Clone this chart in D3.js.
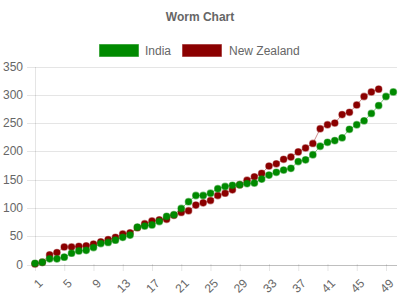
<!DOCTYPE html>
<html><head><meta charset="utf-8">
<script src="https://cdn.jsdelivr.net/npm/d3@7"></script>
<style>body{margin:0;background:#fff}svg{display:block}</style>
</head><body>
<script>
const overs = d3.range(1, 51);
const india = [2,4,10,10,13,20,24,25,30,37,39,43,48,52,66,68,70,76,85,88,99,111,122,122,126,134,138,140,141,143,144,151,158,163,167,170,182,185,194,209,216,219,224,239,247,254,267,281,297,305];
const newZealand = [1,4,17,21,31,31,32,33,36,40,44,48,54,56,65,72,77,79,80,87,92,95,105,109,113,122,126,132,141,149,155,161,174,178,186,190,199,206,214,240,247,250,265,269,282,297,305,310];
const yTicks = [0,50,100,150,200,250,300,350];
const series = [
  {name:"India", values:india, fill:"#008a00", stroke:"rgba(0,138,0,0.5)"},
  {name:"New Zealand", values:newZealand, fill:"#8b0000", stroke:"rgba(139,0,0,0.45)"}
];
const W=400,H=300;
const svg=d3.select("body").append("svg").attr("width",W).attr("height",H)
  .style("font-family","'Liberation Sans',Arial,sans-serif");
const x=d3.scaleLinear().domain([1,50]).range([35,393.3]);
const y=d3.scaleLinear().domain([0,350]).range([264.5,66.5]);

svg.append("text").attr("x",200).attr("y",21).attr("text-anchor","middle")
  .attr("font-size",12).attr("font-weight","bold").attr("fill","#666").text("Worm Chart");

// legend
const leg=[{x:99,tx:145},{x:182,tx:229}];
series.forEach((s,i)=>{
  svg.append("rect").attr("x",leg[i].x+0.5).attr("y",44.5).attr("width",39).attr("height",12)
    .attr("fill",s.fill).attr("stroke",s.stroke).attr("stroke-width",1);
  svg.append("text").attr("x",leg[i].tx).attr("y",54.5).attr("font-size",12).attr("fill","#666").text(s.name);
});

// y grid/axis
const yAxis=svg.append("g").attr("transform","translate(35,0)")
  .call(d3.axisLeft(y).tickValues(yTicks).tickSize(8).tickPadding(4).tickSizeOuter(0));
yAxis.select(".domain").attr("stroke","rgba(0,0,0,0.1)");
yAxis.selectAll(".tick line").attr("stroke","rgba(0,0,0,0.1)");
yAxis.selectAll(".tick text").attr("fill","#666").attr("font-size",12).attr("font-family","'Liberation Sans',Arial,sans-serif");
svg.append("g").selectAll("line").data(yTicks.filter(d=>d>0)).join("line")
  .attr("x1",35).attr("x2",397).attr("y1",d=>Math.round(y(d))+0.5).attr("y2",d=>Math.round(y(d))+0.5)
  .attr("stroke","rgba(0,0,0,0.1)");
yAxis.selectAll(".tick").attr("transform",d=>`translate(0,${Math.round(y(d))+0.5})`);

// x axis
const xTicks=overs.filter(d=>(d-1)%4===0);
const xAxis=svg.append("g").attr("transform","translate(0,265)")
  .call(d3.axisBottom(x).tickValues(xTicks).tickFormat(d3.format("d")).tickSize(6).tickSizeOuter(0));
xAxis.select(".domain").attr("stroke","rgba(0,0,0,0.25)").attr("d","M35,0.5H397");
xAxis.selectAll(".tick line").attr("stroke","rgba(0,0,0,0.1)").attr("y1",-1);
xAxis.selectAll(".tick text").attr("fill","#666").attr("font-size",12)
  .attr("font-family","'Liberation Sans',Arial,sans-serif")
  .attr("text-anchor","end").attr("dy","0.35em").attr("y",0)
  .attr("transform","translate(5,16) rotate(-45)");

// series: draw NZ first, India on top
const line=d3.line().x((d,i)=>x(i+1)).y(d=>y(d));
[series[1],series[0]].forEach(s=>{
  svg.append("path").attr("d",line(s.values)).attr("fill","none").attr("stroke",s.stroke).attr("stroke-width",1);
  svg.append("g").selectAll("circle").data(s.values).join("circle")
    .attr("cx",(d,i)=>x(i+1)).attr("cy",d=>y(d)).attr("r",3.3)
    .attr("fill",s.fill).attr("stroke",s.stroke).attr("stroke-width",1.2);
});
</script>
</body></html>
